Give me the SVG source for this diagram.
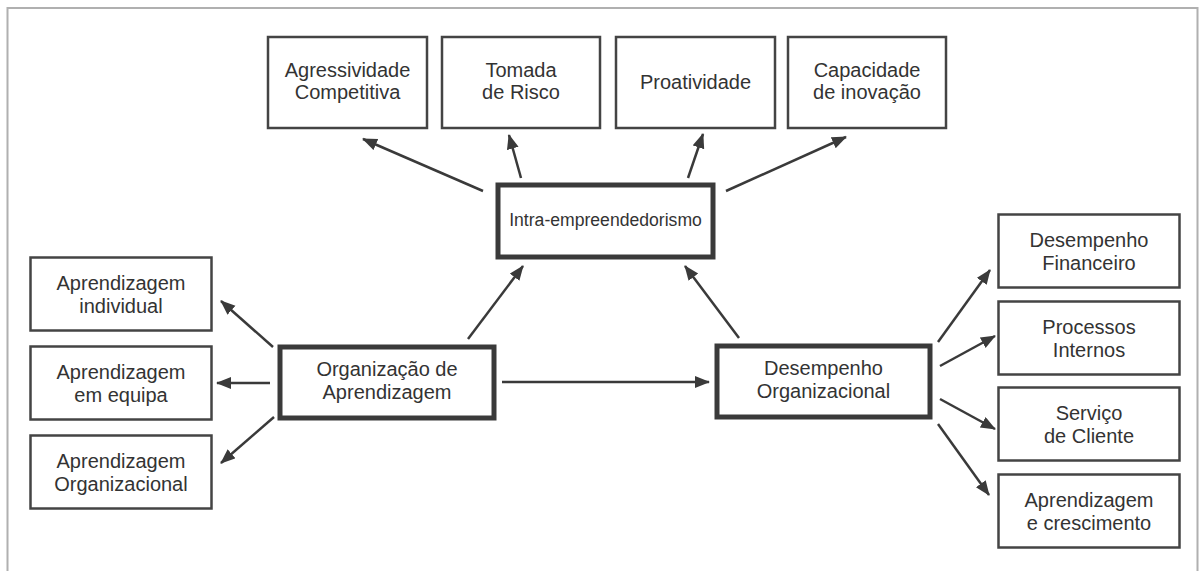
<svg xmlns="http://www.w3.org/2000/svg" width="1200" height="571" viewBox="0 0 1200 571">
<style>
.bx{fill:#fff;stroke:#444;stroke-width:2.5}
.tk{fill:#fff;stroke:#3a3a3a;stroke-width:5}
.t{font-family:"Liberation Sans",Arial,sans-serif;font-size:20px;fill:#333;text-anchor:middle}
.ts{font-family:"Liberation Sans",Arial,sans-serif;font-size:17.6px;fill:#333;text-anchor:middle}
.c line{stroke:#3a3a3a;stroke-width:2.5;marker-end:url(#ah)}
</style>
<defs>
<marker id="ah" markerUnits="userSpaceOnUse" markerWidth="16" markerHeight="14" refX="14" refY="6" orient="auto">
<path d="M0,0 L15,6 L0,12 Z" fill="#3a3a3a"/>
</marker>
</defs>
<rect width="1200" height="571" fill="#fff"/>
<path d="M7.5,571 V8 H1197.5 V571" fill="none" stroke="#b0b0b0" stroke-width="2"/>

<g class="c">
<line x1="483" y1="191" x2="363" y2="139"/>
<line x1="521" y1="178" x2="509" y2="135"/>
<line x1="688" y1="178" x2="703" y2="134"/>
<line x1="726" y1="191" x2="846" y2="137"/>
<line x1="273" y1="347" x2="221" y2="301"/>
<line x1="270" y1="383" x2="217" y2="383"/>
<line x1="274" y1="417" x2="221" y2="463"/>
<line x1="468" y1="339" x2="523" y2="266"/>
<line x1="502" y1="382" x2="709" y2="382"/>
<line x1="739" y1="338" x2="685" y2="266"/>
<line x1="938" y1="342" x2="990" y2="270"/>
<line x1="940" y1="366" x2="995" y2="336"/>
<line x1="940" y1="399" x2="995" y2="429"/>
<line x1="938" y1="424" x2="989" y2="495"/>
</g>

<g id="n-agress"><rect class="bx" x="268" y="37" width="159" height="91"/><text class="t" x="347.5" y="77">Agressividade</text><text class="t" x="347.5" y="99">Competitiva</text></g>
<g id="n-tomada"><rect class="bx" x="442" y="37" width="158" height="91"/><text class="t" x="521" y="77">Tomada</text><text class="t" x="521" y="99">de Risco</text></g>
<g id="n-proat"><rect class="bx" x="616" y="37" width="159" height="91"/><text class="t" x="695.5" y="89">Proatividade</text></g>
<g id="n-capac"><rect class="bx" x="788" y="37" width="158" height="91"/><text class="t" x="867" y="77">Capacidade</text><text class="t" x="867" y="99">de inovação</text></g>

<g id="n-intra"><rect class="tk" x="498" y="185" width="215" height="72"/><text class="ts" x="605.5" y="226">Intra-empreendedorismo</text></g>

<g id="n-apind"><rect class="bx" x="30.5" y="257.5" width="181" height="73"/><text class="t" x="121" y="290">Aprendizagem</text><text class="t" x="121" y="313">individual</text></g>
<g id="n-apeq"><rect class="bx" x="30.5" y="346.5" width="181" height="73"/><text class="t" x="121" y="379">Aprendizagem</text><text class="t" x="121" y="402">em equipa</text></g>
<g id="n-aporg"><rect class="bx" x="30.5" y="435.5" width="181" height="73"/><text class="t" x="121" y="468">Aprendizagem</text><text class="t" x="121" y="491">Organizacional</text></g>

<g id="n-orgapr"><rect class="tk" x="280" y="347" width="214" height="71"/><text class="t" x="387" y="376">Organização de</text><text class="t" x="387" y="399">Aprendizagem</text></g>
<g id="n-desorg"><rect class="tk" x="717" y="346" width="213" height="71"/><text class="t" x="823.5" y="375">Desempenho</text><text class="t" x="823.5" y="398">Organizacional</text></g>

<g id="n-fin"><rect class="bx" x="998.5" y="214.5" width="181" height="73"/><text class="t" x="1089" y="247">Desempenho</text><text class="t" x="1089" y="270">Financeiro</text></g>
<g id="n-proc"><rect class="bx" x="998.5" y="301.5" width="181" height="73"/><text class="t" x="1089" y="334">Processos</text><text class="t" x="1089" y="357">Internos</text></g>
<g id="n-serv"><rect class="bx" x="998.5" y="387.5" width="181" height="73"/><text class="t" x="1089" y="420">Serviço</text><text class="t" x="1089" y="443">de Cliente</text></g>
<g id="n-aprc"><rect class="bx" x="998.5" y="474.5" width="181" height="73"/><text class="t" x="1089" y="507">Aprendizagem</text><text class="t" x="1089" y="530">e crescimento</text></g>
</svg>
